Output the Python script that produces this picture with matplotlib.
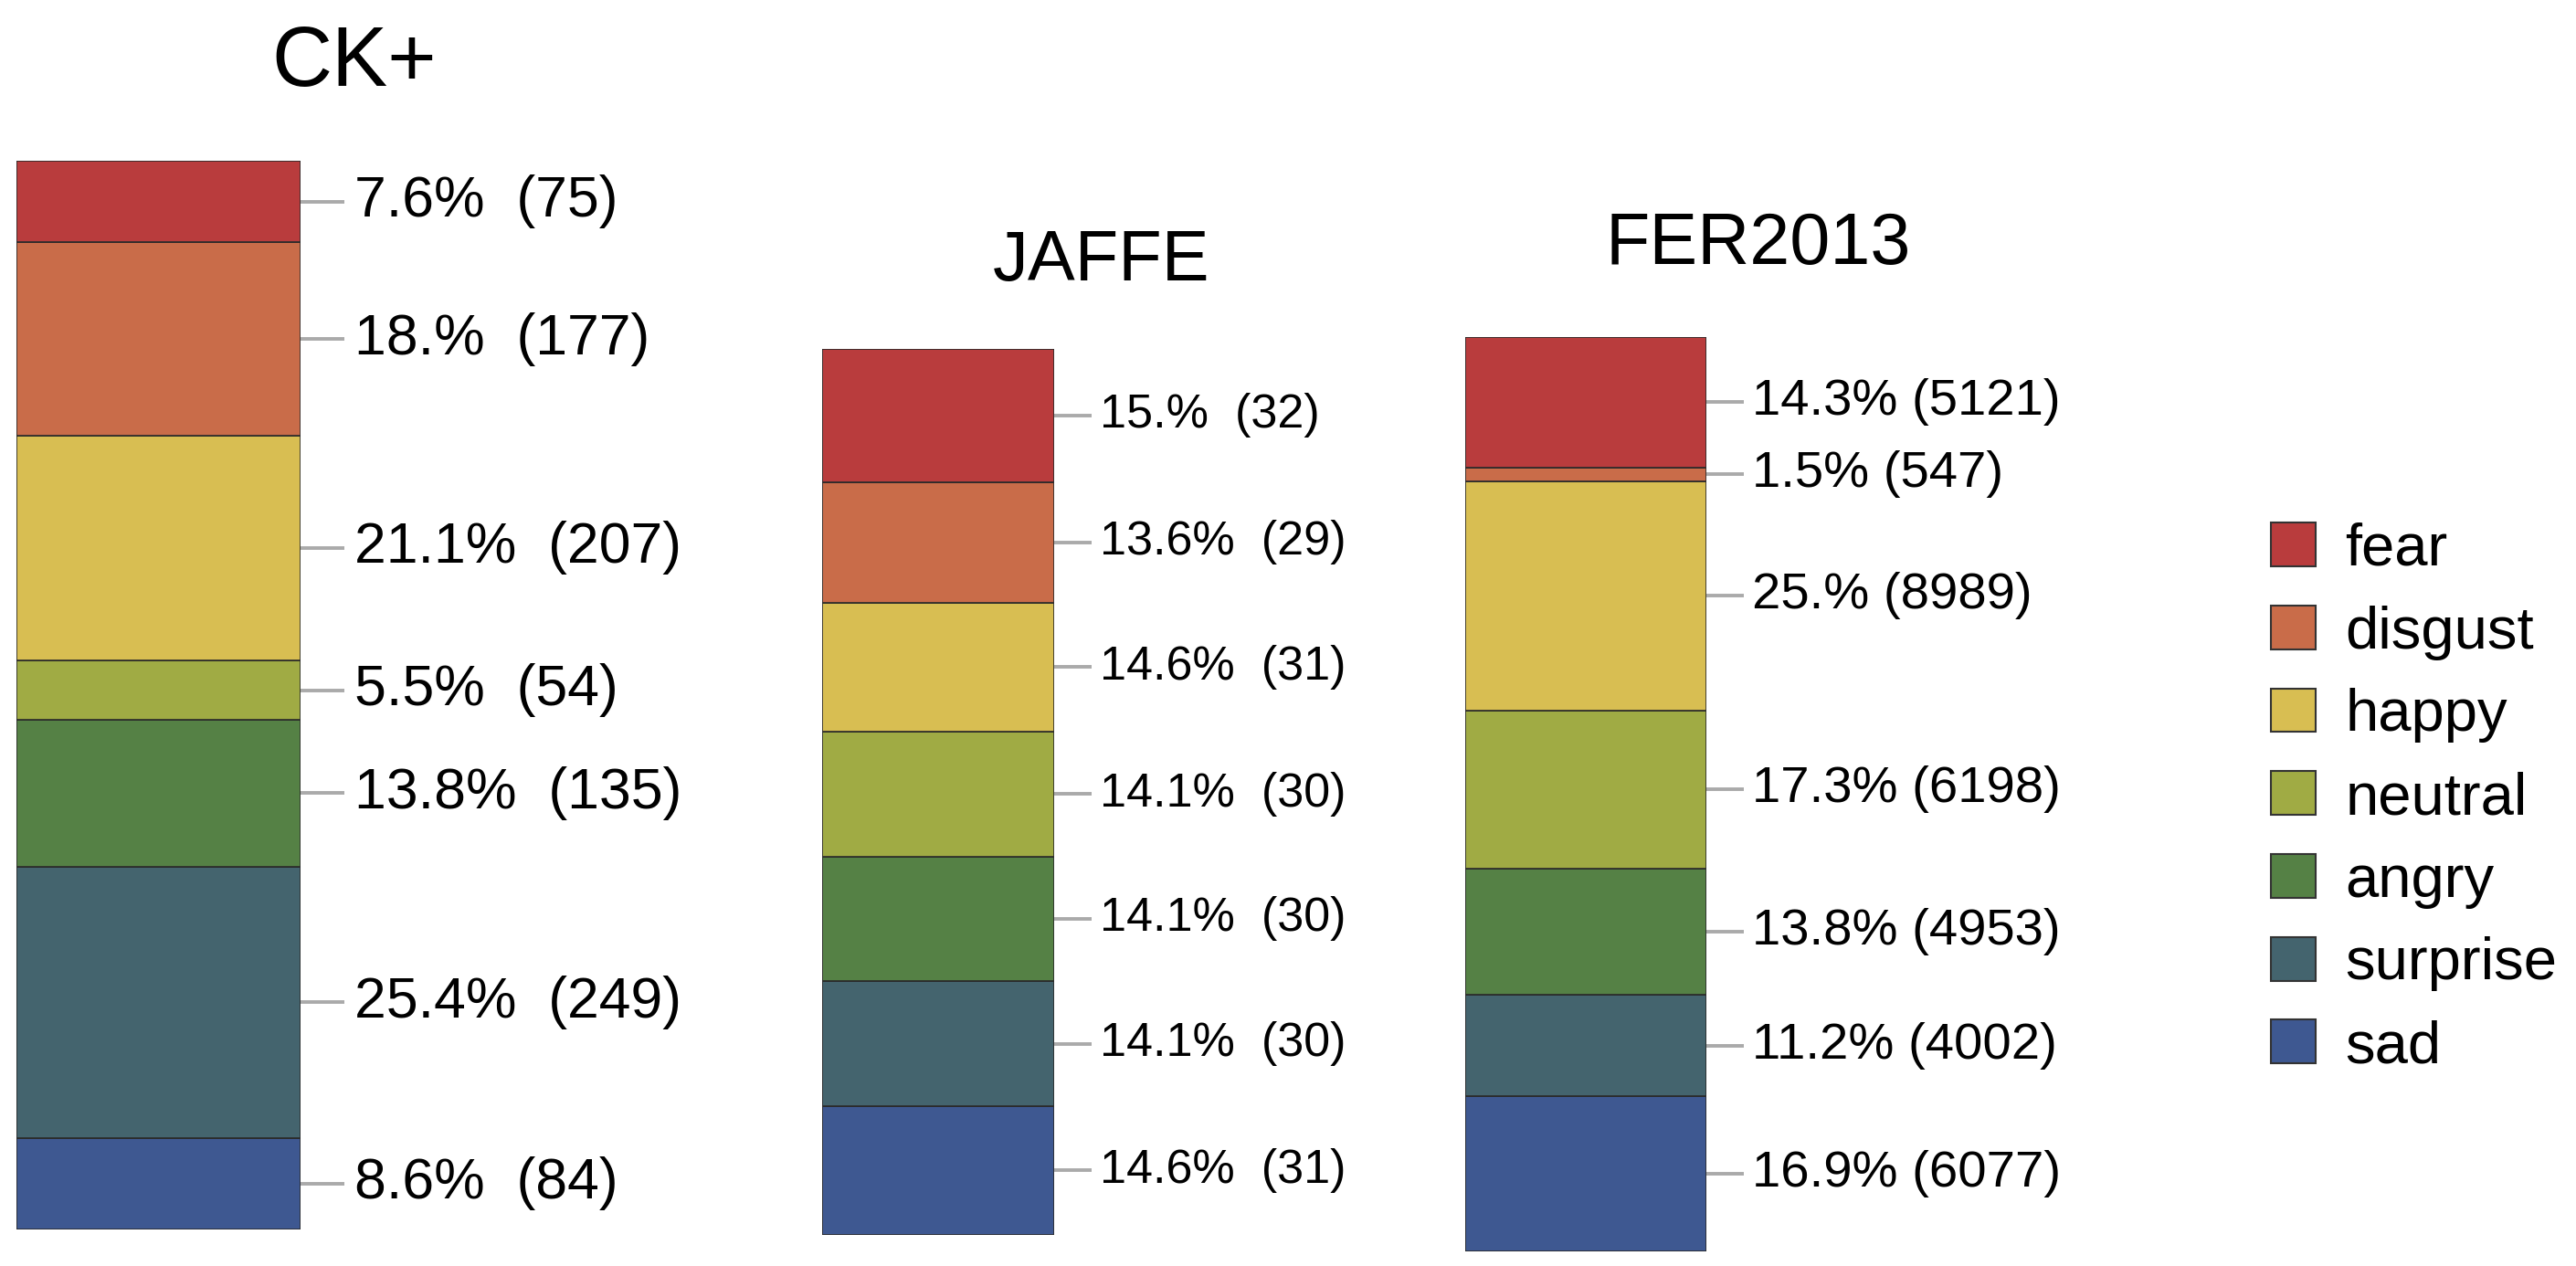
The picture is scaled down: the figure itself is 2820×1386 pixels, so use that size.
import matplotlib
matplotlib.use("Agg")
import matplotlib.pyplot as plt
from matplotlib import transforms
from matplotlib.patches import Patch

plt.rcParams['font.family'] = ['Liberation Sans', 'DejaVu Sans']

# ---- data ----
emotions = ["fear", "disgust", "happy", "neutral", "angry", "surprise", "sad"]
colors = ["#B93C3D", "#C96C49", "#D8BE52", "#A0AB44", "#558145", "#44646E", "#3E5891"]

datasets = ["CK+", "JAFFE", "FER2013"]
ck_counts = [75, 177, 207, 54, 135, 249, 84]
ck_pct = ["7.6", "18.", "21.1", "5.5", "13.8", "25.4", "8.6"]
jaffe_counts = [32, 29, 31, 30, 30, 30, 31]
jaffe_pct = ["15.", "13.6", "14.6", "14.1", "14.1", "14.1", "14.6"]
fer_counts = [5121, 547, 8989, 6198, 4953, 4002, 6077]
fer_pct = ["14.3", "1.5", "25.", "17.3", "13.8", "11.2", "16.9"]

W, H = 2820, 1386
fig = plt.figure(figsize=(W / 100, H / 100), dpi=100)

def fx(x):
    return x / W

def fy(y):
    return 1 - y / H

# layout (pixels): bar left, right, top, bottom, title x, title y, title size,
# label size, separator, leader length, text gap
layout = [
    (18, 329, 176, 1346, 388, 70, 66, 45, "  ", 48, 59),
    (900, 1154, 382, 1352, 1206, 286, 56, 37.5, "  ", 41, 50),
    (1604, 1868, 369, 1370, 1925, 268, 57, 40.5, " ", 41, 50),
]
all_counts = [ck_counts, jaffe_counts, fer_counts]
all_pct = [ck_pct, jaffe_pct, fer_pct]

for name, counts, pcts, (l, r, t, b, tx, ty, tsize, lsize, sep, ll, gap) in zip(
        datasets, all_counts, all_pct, layout):
    ax = fig.add_axes([fx(l), fy(b), fx(r) - fx(l), (b - t) / H])
    total = sum(counts)
    bottom = 0
    trans = transforms.blended_transform_factory(ax.transAxes, ax.transData)
    barw = r - l
    # stack from bottom (sad) to top (fear)
    for i in reversed(range(len(emotions))):
        c = counts[i]
        ax.bar(0.5, c, width=1.0, bottom=bottom, color=colors[i],
               edgecolor="#2a2a2a", linewidth=1.2)
        mid = bottom + c / 2
        ax.plot([1.0, 1.0 + ll / barw], [mid, mid], color="#aaaaaa",
                linewidth=2.8, transform=trans, clip_on=False,
                solid_capstyle="butt")
        ax.text(1.0 + gap / barw, mid, f"{pcts[i]}%{sep}({c})",
                transform=trans, va="center", ha="left", fontsize=lsize,
                color="black")
        bottom += c
    ax.set_xlim(0, 1)
    ax.set_ylim(0, total)
    ax.axis("off")
    fig.text(fx(tx), fy(ty), name, ha="center", va="center",
             fontsize=tsize, color="black")

handles = [Patch(facecolor=c, edgecolor="#333333", linewidth=1.5) for c in colors]
fig.legend(handles, emotions, loc="center left",
           bbox_to_anchor=(fx(2486), fy(874)), frameon=False,
           fontsize=47, handlelength=0.75, handleheight=0.75,
           handletextpad=0.5, labelspacing=0.47, borderaxespad=0,
           borderpad=0)

fig.savefig("out.png", dpi=100, facecolor="white")
